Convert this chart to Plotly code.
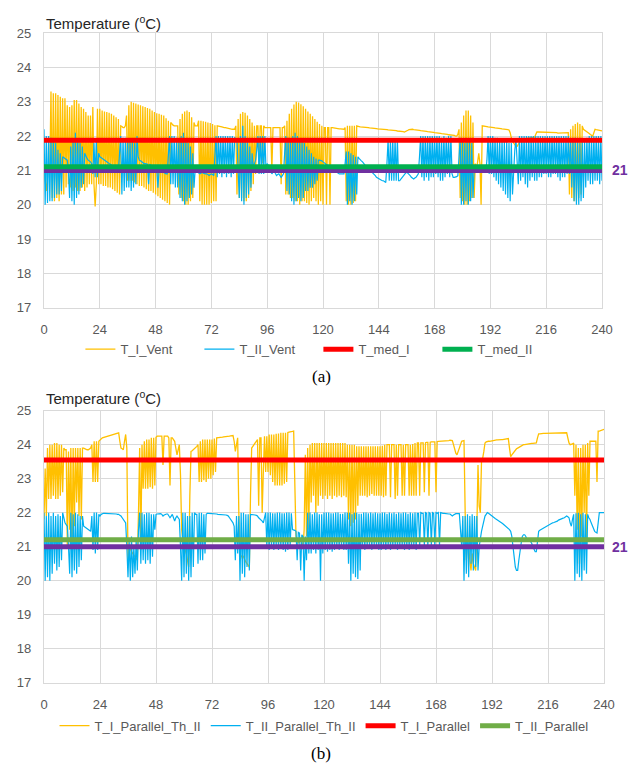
import plotly.graph_objects as go

# time axis: half-hour samples over 240 h
times = [k / 2 for k in range(481)]
x_ticks = list(range(0, 241, 24))
y_ticks = list(range(17, 26))

# (a) T_I_Vent, one row per day (48 half-hour readings)
t_i_vent = [
    21.0, 20.7, 20.4, 20.8, 21.2, 21.0, 23.3, 20.2, 23.25, 20.1, 23.25, 20.2, 23.2, 20.1, 23.15, 20.3, 23.1, 20.3, 23.1, 20.5, 22.9, 20.6, 22.85, 20.5,
    22.9, 20.4, 23.05, 20.5, 23.05, 20.4, 22.95, 20.4, 22.85, 20.5, 22.8, 20.4, 22.7, 20.5, 22.6, 20.6, 22.6, 20.6, 22.85, 20.6, 19.95, 20.6, 22.8, 20.6,
    22.8, 20.6, 22.75, 20.55, 22.72, 20.55, 22.7, 20.5, 22.68, 20.5, 22.65, 20.45, 22.6, 20.4, 22.55, 20.35, 22.5, 20.3, 22.3, 22.28, 22.25, 22.25, 22.3, 22.6,
    20.7, 22.9, 20.7, 23.0, 20.7, 22.97, 20.65, 22.95, 20.6, 22.92, 20.55, 22.9, 20.55, 22.87, 20.5, 22.85, 20.45, 22.82, 20.4, 22.8, 20.4, 22.75, 20.35, 22.7,
    20.3, 22.67, 20.25, 22.65, 20.2, 22.62, 20.15, 22.6, 20.1, 22.52, 20.05, 22.45, 20.0, 22.4, 22.35, 22.32, 22.3, 22.3, 22.3, 22.3,
    20.3, 22.5, 20.2, 22.65, 20.1, 22.72, 20.0, 22.75, 20.0, 22.7, 20.1, 22.55, 20.2, 22.4, 22.3, 22.3, 22.3, 22.45,
    20.1, 22.45, 20.0, 22.43, 20.0, 22.42, 20.0, 22.4, 20.0, 22.38,
    20.05, 22.35, 20.1, 22.32, 20.1, 22.3, 22.3, 22.29, 22.28, 22.27, 22.25, 22.25, 22.25, 22.24, 22.22, 22.21, 22.2, 22.2, 22.2, 22.2, 22.2, 22.3,
    20.3, 22.5, 20.2, 22.65, 20.2, 22.7, 20.1, 22.68, 20.1, 22.6, 20.2, 22.5, 20.4, 22.4, 20.6, 22.3, 20.9, 22.3, 22.3, 21.0, 22.3, 22.3, 21.2, 22.3, 22.25, 22.25,
    22.25, 22.25, 22.25, 22.25, 21.0, 22.25, 22.25, 22.25, 22.25, 22.25, 22.25, 22.25, 20.6, 22.25, 22.25, 22.3,
    20.3, 22.45, 20.3, 22.65, 20.2, 22.8, 20.2, 22.92, 20.1, 23.0, 20.1, 22.98, 20.0, 22.93, 20.1, 22.87, 20.1, 22.8, 20.05, 22.72, 20.0, 22.65, 20.1, 22.58,
    20.2, 22.5, 20.1, 22.42, 20.0, 22.35, 20.1, 22.3,
    20.0, 22.25, 22.25, 20.0, 22.25, 22.25, 20.0, 22.25, 22.25, 22.24, 22.23, 22.22, 22.22, 22.22, 22.21, 22.21, 22.2, 22.2, 22.2, 22.25,
    20.1, 22.3, 20.0, 22.3, 20.0, 22.3, 20.05, 22.3, 20.1, 22.3,
    22.28, 22.28, 22.27, 22.27, 22.26, 22.26, 22.26, 22.25, 22.25, 22.25, 22.24, 22.24, 22.23, 22.23, 22.22, 22.22, 22.22, 22.21,
    22.21, 22.21, 22.2, 22.2, 22.2, 22.2, 22.19, 22.19, 22.18, 22.18, 22.17, 22.17, 22.17, 22.16, 22.16, 22.16, 22.15, 22.15, 22.14, 22.14, 22.13, 22.13, 22.12, 22.13,
    22.15, 22.17, 22.19, 22.2, 22.2, 22.2, 22.19, 22.19, 22.18, 22.18, 22.17, 22.17, 22.16, 22.16, 22.15, 22.15, 22.14, 22.14, 22.13, 22.13, 22.12, 22.12, 22.11, 22.11,
    22.1, 22.1, 22.09, 22.09, 22.08, 22.08, 22.07, 22.07, 22.06, 22.06, 22.05, 22.05, 22.04, 22.04, 22.03, 22.03, 22.02, 22.02, 22.0, 22.0, 22.05, 22.2,
    20.2, 22.4, 20.1, 22.6, 20.0, 22.75, 20.0, 22.75, 20.1, 22.6, 20.2, 22.4, 20.2, 21.2, 21.0, 21.3, 21.5, 21.2, 20.0, 22.3, 22.3, 22.29, 22.28, 22.28, 22.27, 22.27,
    22.26, 22.26, 22.25, 22.25, 22.24, 22.24, 22.23, 22.23, 22.22, 22.22, 22.21, 22.21, 22.2, 22.2, 22.19, 22.19, 22.18, 22.1, 21.95, 21.85, 21.8, 21.75, 21.7, 21.7,
    21.75, 21.82, 21.9, 21.91, 21.92, 21.92, 21.93, 21.93, 21.94, 21.94, 21.95, 21.95, 21.96, 21.96, 21.97, 22.05, 22.12, 22.12, 22.12, 22.12, 22.11, 22.11, 22.11, 22.11,
    22.11, 22.11, 22.1, 22.1, 22.1, 22.1, 22.1, 22.1, 22.1, 22.1, 22.09, 22.09, 22.09, 22.09, 22.08, 22.08, 22.08, 22.08, 22.08, 22.1,
    20.3, 22.2, 20.2, 22.3, 20.1, 22.35, 20.1, 22.4, 20.2, 22.35, 20.3, 22.3,
    22.2, 22.18, 22.15, 22.12, 22.1, 22.08, 22.05, 22.02, 22.0, 22.1, 22.2, 22.19, 22.18, 22.17, 22.16, 22.16,
    22.15,
]

# (a) T_II_Vent
t_ii_vent = [
    22.2, 20.0, 22.0, 20.05, 22.0, 20.1, 21.95, 20.1, 21.9, 20.2, 21.8, 20.3, 21.6, 20.3, 21.5, 20.4, 21.4, 21.38, 21.35, 21.33, 21.3, 21.0,
    20.2, 21.7, 20.1, 21.9, 20.0, 22.1, 20.2, 21.9, 20.3, 21.8, 20.5, 21.7, 20.6, 21.5,
    21.4, 21.35, 21.3, 21.28, 21.25, 21.2, 20.9, 21.8, 20.8, 21.9, 20.8, 21.5,
    21.4, 21.38, 21.35, 21.33, 21.3, 21.28, 21.25, 21.22, 21.2, 21.18, 21.15, 21.12, 21.1, 21.08, 21.05, 21.02, 21.0, 21.5,
    22.0, 20.3, 21.95, 20.4, 21.95, 20.5, 21.9, 20.5, 21.9, 20.4, 21.85, 20.5, 21.8, 20.6, 22.0, 21.4,
    21.3, 21.28, 21.25, 21.22, 21.2, 21.2, 21.2, 21.18, 20.6, 21.17, 21.15, 21.12, 21.1, 21.08,
    21.05, 21.05, 20.5, 21.02, 21.0, 20.98, 20.95, 20.92, 20.9, 20.9, 20.9, 21.5,
    22.0, 20.6, 22.0, 20.6, 22.0, 20.5, 21.95, 20.5, 21.9, 20.2, 22.0, 20.1, 22.1, 20.0, 21.9, 20.1, 21.8, 20.2, 21.7, 20.3, 21.5, 20.5,
    21.0, 20.98, 20.95, 20.92, 20.9, 20.92, 20.95, 20.92, 20.9, 20.9, 20.9, 20.88, 20.85, 20.88,
    20.9, 20.88, 20.85, 21.4,
    22.0, 20.8, 22.0, 20.9, 22.0, 20.8, 22.0, 20.9, 22.0, 20.8, 22.0, 20.9, 22.0, 20.8, 22.0, 20.9, 21.95, 21.93, 21.9, 21.0,
    20.2, 22.0, 20.1, 22.3, 20.0, 22.0, 20.2, 21.9, 20.3, 21.7, 20.5, 21.5,
    21.1, 21.2, 21.3, 21.6,
    22.0, 20.9, 22.0, 20.9, 22.0, 20.9, 22.0, 21.0,
    21.2, 21.15, 21.1, 21.0, 20.9, 20.95, 21.0, 20.92, 20.85, 20.88, 20.9, 20.85, 20.8, 20.85, 20.9, 21.5,
    22.0, 20.4, 21.95, 20.3, 21.9, 20.1, 22.0, 20.0, 22.1, 20.1, 22.0, 20.2, 21.9, 20.1, 21.85, 20.2, 21.8, 20.4, 21.7, 20.4, 21.6, 20.5, 21.5, 20.5, 21.4, 20.6, 21.35, 20.7,
    21.3, 21.3, 21.3, 21.28,
    21.25, 21.22, 21.2, 21.18, 21.15, 21.12, 21.1, 21.08, 21.05, 21.02, 21.0, 20.98, 20.95, 20.92, 20.9, 20.9, 20.9, 20.9, 20.9, 21.2,
    21.55, 20.0, 21.55, 20.1, 21.5, 20.0, 21.45, 20.1, 21.4, 20.3,
    21.4, 21.35, 21.3, 21.28, 21.25, 21.2, 21.15, 21.12, 21.1, 21.05, 21.0, 20.98, 20.95, 20.92, 20.9, 20.85, 20.8, 20.78,
    20.75, 20.72, 20.7, 20.7, 20.7, 20.68, 20.65, 21.2,
    21.9, 20.7, 21.9, 20.7, 21.9, 20.7, 21.9, 20.7, 21.9, 20.7,
    20.7, 20.75, 20.8, 20.85, 20.9, 20.92, 20.95, 20.92, 20.9, 20.85, 20.8, 20.78, 20.75, 20.78, 20.8, 20.85, 20.9, 21.4,
    22.0, 20.8, 22.0, 20.7, 22.0, 20.8, 22.0, 20.7, 22.0, 20.8, 22.0, 20.8,
    22.0, 20.9, 22.0, 20.8, 22.0, 20.7, 21.95, 20.7, 22.0, 20.8, 21.95, 20.9, 22.0, 20.8, 22.0, 20.9,
    20.8, 20.8, 20.8, 20.82, 20.85, 21.3,
    21.95, 20.0, 21.9, 20.0, 21.8, 20.1, 21.9, 20.0, 21.9, 20.1, 21.8, 20.2,
    21.0, 21.02, 21.05, 21.02, 21.0, 20.98, 20.95, 20.98, 21.0, 20.98, 20.95, 21.3,
    22.0, 20.9,
    22.0, 20.9, 22.0, 20.8, 21.95, 20.7, 21.95, 20.6, 21.9, 20.5, 21.9, 20.4, 21.85, 20.3, 21.85, 20.2, 21.8, 20.1, 21.8, 20.3,
    21.2, 21.6, 21.9, 21.0,
    20.6, 22.0, 20.7, 22.0, 20.8, 22.0, 20.6, 22.0, 20.5, 22.0, 20.7, 22.0, 20.8, 22.0, 20.7, 22.0, 20.7, 22.0, 20.8, 22.0, 20.8, 22.0, 20.9, 22.0,
    20.9, 22.0, 20.8, 22.0, 20.8, 22.0, 20.9, 22.0, 20.9, 22.0, 20.8, 22.0, 20.7, 22.0, 20.8, 22.0, 20.8, 22.0, 20.9, 22.0, 20.9, 21.9, 20.5, 21.9,
    20.1, 21.95, 20.0, 21.9, 20.0, 21.8, 20.1, 21.85, 20.2, 21.9, 20.5, 21.95,
    20.7, 22.0, 20.6, 22.0, 20.6, 22.0, 20.7, 22.0, 20.7, 22.0, 20.6, 22.0,
    20.7,
]

# (b) T_I_Parallel_Th_II
t_i_parallel_th_ii = [
    21.8, 23.3, 21.9, 23.9, 22.4, 24.0, 22.4, 24.0, 22.5, 24.05, 22.4, 24.05, 22.4, 24.0, 22.5, 24.0, 22.6, 23.9,
    23.85, 23.85, 21.0, 23.8, 21.5, 23.9, 20.8, 23.9, 21.6, 23.9, 22.3, 23.9, 21.9, 23.9, 21.8, 23.9,
    23.9, 23.88, 23.85, 23.85, 23.85, 23.88, 23.9, 24.0,
    22.9, 24.1, 22.9, 24.1, 22.9, 24.1,
    24.15, 24.17, 24.2, 24.21, 24.22, 24.23, 24.25, 24.26, 24.28, 24.29, 24.3, 24.31, 24.32, 24.33, 24.34, 24.34, 24.35, 24.1, 23.9, 23.88, 23.85, 24.1, 24.3, 23.9,
    20.6, 21.0, 20.9, 20.85, 20.8, 20.75, 20.7, 20.65, 20.6, 22.0,
    23.9, 20.9, 24.0, 22.7, 24.1, 22.7, 24.15, 22.7, 24.15, 22.75, 24.2, 22.7, 24.2, 22.8,
    24.22, 24.25, 24.25, 24.25, 24.25, 24.25, 23.4, 24.25, 24.25, 24.25, 24.25, 24.2, 22.8, 24.2, 24.2, 24.15, 24.1, 23.9, 23.7, 23.85, 24.0, 23.1,
    21.5, 21.2, 21.0, 20.9, 20.8, 20.6, 20.4, 22.5,
    23.8, 23.82, 23.85, 23.88, 23.9, 23.95, 24.0, 22.9, 24.1, 22.9, 24.15, 22.95, 24.15, 22.9, 24.15, 23.0, 24.15, 23.0,
    24.15, 23.1, 24.18, 23.2, 24.2, 24.2, 24.2, 24.21, 24.22, 24.22, 24.23, 24.23, 24.24, 24.24, 24.25, 24.25, 24.26, 24.26, 24.27, 24.1, 23.8, 24.0, 24.2, 22.0,
    20.6, 20.7, 20.75, 20.7, 20.6, 20.55, 20.5, 20.45, 20.4, 22.5,
    23.9, 23.95, 24.0, 24.05, 24.1, 24.15, 22.2, 24.2, 24.2, 22.0, 23.2, 24.25,
    23.2, 24.25,
    23.2, 24.3, 23.1, 24.3, 22.9, 24.3, 22.8, 24.32, 22.8, 24.33, 22.8, 24.35, 22.8, 24.35, 22.85, 24.35, 22.9, 24.36,
    24.37, 24.37, 24.38, 24.39, 24.4, 22.5,
    21.3, 21.2, 21.1, 21.15, 21.2, 21.1, 21.0, 21.5,
    23.7, 21.3, 23.9, 21.5, 24.0, 22.3, 24.05, 22.5, 24.05, 22.0, 24.05, 22.2, 24.05, 22.5, 24.05, 22.4,
    24.05, 22.5, 24.05, 22.4, 24.05, 22.5, 24.05, 22.4, 24.05, 22.5, 24.05, 22.45, 24.05, 22.5, 24.05, 22.45, 24.05, 22.5, 24.05, 22.45, 24.0, 21.8, 24.0, 21.6,
    24.0, 21.7, 24.0, 21.8, 23.95, 22.2, 23.95, 22.5, 23.95, 22.5, 23.95, 22.5, 23.95, 22.45, 23.95, 22.5, 23.95, 22.55, 23.95, 22.5, 23.95, 22.5, 23.95, 22.5,
    23.95, 22.5, 23.97, 22.45, 24.0, 22.5, 24.0, 24.0, 24.0, 22.45, 24.0, 24.0, 24.0, 22.4, 24.0, 22.5, 24.0, 24.0, 24.0, 22.5, 24.0, 22.5, 24.0, 24.0,
    24.0, 22.5, 24.0, 22.5, 24.02, 22.5, 24.05, 22.5, 24.05, 24.05, 22.5, 24.05, 24.05, 24.05, 22.6, 24.06, 24.07, 24.07, 22.5, 24.07, 24.08, 24.08, 24.08, 24.08,
    22.6, 24.09, 24.1, 24.1, 24.1, 24.1, 24.1, 24.11, 24.12, 24.12, 24.12, 24.12, 24.13, 24.13, 24.12, 24.0, 23.85, 23.75, 23.7, 23.8, 23.95, 24.05, 24.1, 24.11, 24.12, 22.0,
    20.6, 21.2, 21.0, 20.6, 20.3, 20.8, 20.5, 20.4, 20.3, 21.5, 23.4, 22.2, 22.0, 23.5, 23.6, 23.8,
    24.05, 24.08, 24.1, 24.1, 24.1, 24.11,
    24.12, 24.12, 24.13, 24.13, 24.14, 24.14, 24.15, 24.15, 24.15, 24.15, 24.16, 24.16, 24.17, 24.17, 24.18, 23.9, 23.65, 23.7, 23.75, 23.8, 23.85, 23.88, 23.9, 23.92,
    23.95, 23.97, 24.0, 24.0, 24.0, 24.01, 24.02, 24.02, 24.03, 24.03, 24.04, 24.04, 24.05, 24.05, 24.05, 24.2, 24.32, 24.32, 24.33, 24.33, 24.33, 24.33, 24.33, 24.33,
    24.33, 24.33, 24.33, 24.33, 24.34, 24.34, 24.34, 24.34, 24.34, 24.34, 24.34, 24.35, 24.35, 24.35, 24.35, 24.35, 24.35, 24.2, 24.05, 24.0,
    24.0, 24.02, 24.05, 22.5, 24.0, 21.5, 23.9, 20.5, 23.9, 21.3, 24.0, 22.0, 24.0, 21.0, 24.05, 22.5,
    24.1, 24.1, 24.1, 24.1, 24.1, 24.1, 22.9, 24.4, 24.4, 24.41, 24.42, 24.43,
    24.45,
]

# (b) T_II_Parallel_Th_II
t_ii_parallel_th_ii = [
    22.0, 20.0, 21.9, 20.1, 22.0, 20.0, 21.9, 20.2, 22.0, 20.5, 21.9, 20.3, 21.95, 20.4, 21.9, 20.6, 22.0, 21.8,
    21.7, 21.65, 21.6, 21.0,
    20.2, 22.0, 20.1, 21.95, 20.3, 22.0, 20.2, 21.95, 20.4, 21.9, 20.6, 21.9,
    21.6, 21.58, 21.55, 21.52, 21.5, 21.48, 21.45, 21.9,
    20.9, 22.0, 20.8, 22.0, 20.9, 21.95,
    21.9, 21.95, 21.97, 21.98, 21.98, 21.98, 21.98, 21.98, 21.98, 21.97, 21.97, 21.97, 21.97, 21.96, 21.96, 21.95, 21.95, 21.92, 21.9, 21.85, 21.8, 21.75, 21.7, 21.0,
    20.1, 21.2, 20.0, 21.3, 20.1, 21.0, 20.2, 21.2, 20.3, 21.5,
    22.0, 20.5, 22.0, 20.6, 21.95, 20.5, 22.0, 20.6, 22.0, 20.5, 21.95, 20.7, 21.95, 21.5,
    21.95, 21.96, 21.97, 21.97, 21.97, 21.95, 21.9, 21.93, 21.95, 21.96, 21.96, 21.9, 21.85, 21.9, 21.95, 21.85, 21.75, 21.85, 21.9, 21.85, 21.8, 21.0,
    20.0, 22.0, 20.1, 22.0, 20.2, 21.9, 20.0, 21.9, 20.1, 22.0, 20.4, 22.0,
    21.95, 21.95,
    20.5, 22.0, 20.6, 22.0, 20.6, 21.95, 20.8, 21.95,
    21.98, 21.98, 21.98, 21.97,
    21.97, 21.97, 21.96, 21.96, 21.96, 21.95, 21.95, 21.95, 21.95, 21.94, 21.94, 21.93, 21.93, 21.92, 21.9, 21.85, 21.8, 21.75, 21.7, 21.6,
    20.6, 21.9, 20.8, 21.9, 20.0, 22.0, 20.2, 22.0, 20.1, 21.95, 20.4, 21.95, 20.3, 21.95,
    21.95, 21.94, 21.93, 21.93, 21.92, 21.9, 21.85, 21.82, 21.8, 21.75, 21.7, 21.85, 22.0, 21.0,
    22.0, 20.9, 22.0, 21.0, 21.98, 20.9, 21.98, 21.0, 22.0, 20.9, 22.0, 20.95, 21.98, 20.9, 21.98, 20.85, 22.0, 20.9, 22.0, 21.0, 21.98, 21.5,
    21.5, 21.48, 21.45, 20.6, 21.42, 21.4, 20.3, 21.35, 21.3, 20.0, 21.3, 20.6,
    22.0, 20.8, 22.0, 20.8, 21.95, 20.9, 22.0, 20.8, 22.0, 20.9, 21.95, 20.0, 21.95, 20.8,
    22.0, 20.9, 22.0, 20.85, 22.0, 20.9, 21.98, 20.85, 21.98, 20.9, 22.0, 20.95, 22.0, 20.9, 21.97, 20.95, 21.97, 20.9, 22.0, 20.9, 22.0, 20.5, 22.0, 20.0,
    21.95, 20.2, 22.0, 20.1, 22.0, 20.05, 21.97, 20.3, 21.97, 20.95, 22.0, 20.9, 22.0, 20.95, 21.98, 21.0, 22.0, 20.9, 21.98, 21.0, 22.0, 20.95, 21.98, 20.9,
    21.98, 20.9, 22.0, 20.95, 22.0, 20.9, 21.97, 21.0, 22.0, 20.9, 21.98, 20.95, 22.0, 21.0, 21.97, 20.9, 22.0, 20.95, 21.98, 21.0, 22.0, 20.9, 22.0, 20.95,
    21.97, 20.9, 22.0, 20.95, 21.98, 21.0, 22.0, 20.9, 21.98, 21.98, 21.0, 22.0, 21.98, 21.98, 21.05, 22.0, 21.98, 21.0, 22.0, 21.98, 21.05, 22.0, 21.98, 21.0,
    22.0, 21.98, 22.0, 21.05, 22.0, 21.98, 21.98, 21.98, 21.97, 21.97, 21.97, 21.96, 21.96, 21.93, 21.9, 21.93, 21.96, 21.97, 21.97, 21.97, 21.97, 21.5,
    21.0, 21.9, 20.0, 21.9, 20.2, 21.95, 20.1, 21.9, 20.5, 21.95, 20.3, 21.9, 20.4, 21.9, 20.3, 21.0,
    21.3, 21.45, 21.6, 21.75, 21.9, 21.95, 22.0, 21.98, 21.95, 21.92,
    21.9, 21.88, 21.85, 21.82, 21.8, 21.78, 21.75, 21.72, 21.7, 21.68, 21.65, 21.62, 21.6, 21.58, 21.55, 21.5, 21.45, 21.3, 21.0, 20.7, 20.4, 20.3, 20.3, 20.6,
    20.9, 21.1, 21.3, 21.35, 21.35, 21.3, 21.2, 21.2, 21.2, 21.15, 21.1, 21.0, 20.9, 20.85, 20.85, 21.1, 21.45, 21.48, 21.5, 21.52, 21.55, 21.58, 21.6, 21.62,
    21.63, 21.65, 21.66, 21.68, 21.7, 21.71, 21.72, 21.74, 21.75, 21.78, 21.8, 21.81, 21.82, 21.84, 21.85, 21.88, 21.9, 21.88, 21.85, 21.7, 21.6, 21.8,
    21.95, 20.0, 21.98, 20.2, 22.0, 20.1, 21.95, 20.0, 22.0, 20.3, 21.95, 20.2, 21.95, 21.85,
    21.8, 21.7, 21.6, 21.52, 21.45, 21.42, 21.4, 21.7, 22.0, 22.0, 22.0, 22.0,
    22.0,
]

for _name, _arr in [("t_i_vent", t_i_vent), ("t_ii_vent", t_ii_vent),
                    ("t_i_parallel_th_ii", t_i_parallel_th_ii), ("t_ii_parallel_th_ii", t_ii_parallel_th_ii)]:
    if len(_arr) != len(times):
        raise ValueError(f"{_name} has {len(_arr)} values, expected {len(times)}")

# mean / reference levels
t_med_i = 21.88
t_med_ii = 21.11
t_i_parallel = 23.55
t_ii_parallel = 21.2
setpoint = 21.0
span = [0, 240]

ORANGE = "#ffc000"
BLUE = "#00b0f0"
RED = "#ff0000"
GREEN_A = "#00b050"
GREEN_B = "#70ad47"
PURPLE = "#7030a0"
GRID = "#d9d9d9"
TXT = "#595959"
FONT = "Liberation Sans"

fig = go.Figure()


def line(x, y, name, color, width, xa, ya, leg, show=True):
    fig.add_trace(go.Scatter(
        x=x, y=y, mode="lines", name=name,
        line=dict(color=color, width=width),
        xaxis=xa, yaxis=ya, legend=leg, showlegend=show,
    ))


# panel (a)
line(times, t_i_vent, "T_I_Vent", ORANGE, 1.3, "x", "y", "legend")
line(times, t_ii_vent, "T_II_Vent", BLUE, 1.2, "x", "y", "legend")
line(span, [setpoint, setpoint], "21", PURPLE, 5, "x", "y", "legend", show=False)
line(span, [t_med_i, t_med_i], "T_med_I", RED, 5, "x", "y", "legend")
line(span, [t_med_ii, t_med_ii], "T_med_II", GREEN_A, 5, "x", "y", "legend")

# panel (b)
line(times, t_i_parallel_th_ii, "T_I_Parallel_Th_II", ORANGE, 1.3, "x2", "y2", "legend2")
line(times, t_ii_parallel_th_ii, "T_II_Parallel_Th_II", BLUE, 1.2, "x2", "y2", "legend2")
line(span, [setpoint, setpoint], "21", PURPLE, 5, "x2", "y2", "legend2", show=False)
line(span, [t_i_parallel, t_i_parallel], "T_I_Parallel", RED, 5, "x2", "y2", "legend2")
line(span, [t_ii_parallel, t_ii_parallel], "T_II_Parallel", GREEN_B, 5, "x2", "y2", "legend2")

H = 770.0
common_x = dict(range=[0, 240], tickvals=x_ticks, showgrid=True, gridcolor=GRID, gridwidth=1.3,
                showline=True, linecolor=GRID, linewidth=1.3, mirror=True, zeroline=False,
                ticks="", tickfont=dict(family=FONT, size=13, color=TXT), ticklabelstandoff=10)
common_y = dict(range=[17, 25], tickvals=y_ticks, showgrid=True, gridcolor=GRID, gridwidth=1.3,
                showline=True, linecolor=GRID, linewidth=1.3, mirror=True, zeroline=False,
                ticks="", tickfont=dict(family=FONT, size=13, color=TXT), ticklabelstandoff=9)

leg_common = dict(orientation="h", xanchor="center", yanchor="middle", bgcolor="rgba(0,0,0,0)",
                  font=dict(family=FONT, size=13, color=TXT), itemwidth=30, tracegroupgap=0)

fig.update_layout(
    width=640, height=770,
    margin=dict(l=44, r=36, t=0, b=0),
    paper_bgcolor="white", plot_bgcolor="white",
    xaxis=dict(domain=[0, 558 / 560], anchor="y", **common_x),
    yaxis=dict(domain=[1 - 306.7 / H, 1 - 26.7 / H], anchor="x", **common_y),
    xaxis2=dict(domain=[0, 1], anchor="y2", **common_x),
    yaxis2=dict(domain=[1 - 689 / H, 1 - 411.7 / H], anchor="x2", **common_y),
    legend=dict(x=0.49, y=1 - 349 / H, entrywidth=74, entrywidthmode="pixels", **leg_common),
    legend2=dict(x=0.5, y=1 - 733 / H, **leg_common),
    showlegend=True,
    annotations=[
        dict(text="Temperature (<sup>o</sup>C)", xref="paper", yref="paper", x=0, y=1 - 16 / H,
             xanchor="left", yanchor="middle", showarrow=False,
             font=dict(family=FONT, size=15, color="#262626")),
        dict(text="Temperature (<sup>o</sup>C)", xref="paper", yref="paper", x=0, y=1 - 398 / H,
             xanchor="left", yanchor="middle", showarrow=False,
             font=dict(family=FONT, size=15, color="#262626")),
        dict(text="(a)", xref="paper", yref="paper", x=(321 - 44) / 560, y=1 - 377 / H,
             xanchor="center", yanchor="middle", showarrow=False,
             font=dict(family="Liberation Serif", size=17, color="black")),
        dict(text="(b)", xref="paper", yref="paper", x=(321 - 44) / 560, y=1 - 761 / H,
             xanchor="center", yanchor="middle", showarrow=False,
             font=dict(family="Liberation Serif", size=17, color="black")),
        dict(text="<b>21</b>", xref="paper", yref="y", x=1, y=setpoint, xanchor="left", xshift=6,
             yanchor="middle", showarrow=False, font=dict(family=FONT, size=14, color=PURPLE)),
        dict(text="<b>21</b>", xref="paper", yref="y2", x=1, y=setpoint, xanchor="left", xshift=6,
             yanchor="middle", showarrow=False, font=dict(family=FONT, size=14, color=PURPLE)),
    ],
)

fig.write_html("out.html")
